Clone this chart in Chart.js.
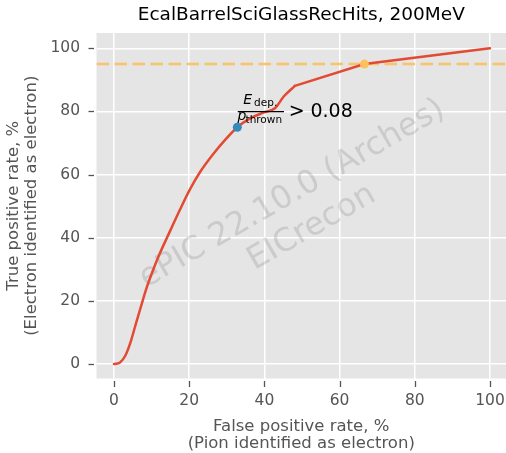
<!DOCTYPE html>
<html><head><meta charset="utf-8">
<script src="https://cdn.jsdelivr.net/npm/chart.js@4.4.1/dist/chart.umd.min.js"></script>
<style>html,body{margin:0;padding:0;background:#fff;overflow:hidden}#wrap{width:506px;height:453px}</style>
</head><body><div id="wrap"><canvas id="c" width="506" height="453"></canvas></div>
<script>
const TITLE = 'EcalBarrelSciGlassRecHits, 200MeV';
const X_LABEL = ['False positive rate, %', '(Pion identified as electron)'];
const Y_LABEL = ['True positive rate, %', '(Electron identified as electron)'];
const X_TICKS = [0, 20, 40, 60, 80, 100];
const Y_TICKS = [0, 20, 40, 60, 80, 100];
// ROC curve: smooth part
const FPR_CURVED = [0, 1.6, 3.0, 4.3, 5.6, 7.0, 8.5, 10, 12, 14.6, 17.6, 20.2, 22.9, 26.4, 29.5, 32.8, 36.2, 39.7, 42.8, 45.2, 48.1];
const TPR_CURVED = [0, 0.5, 2.6, 6.5, 11.8, 17.5, 23.5, 28.5, 34.5, 41.3, 49, 55.3, 60.8, 66.5, 70.9, 75, 77.8, 79.6, 81, 84.8, 88.1];
// ROC curve: straight tail
const FPR_TAIL = [48.1, 66.6, 100];
const TPR_TAIL = [88.1, 95, 100];
const CUT_POINT = [32.8, 75];
const TARGET_POINT = [66.6, 95];
const TPR_TARGET = 95;
const CUT_TEXT = '0.08';
const WATERMARK = ['ePIC 22.10.0 (Arches)', 'EICrecon'];
const WATERMARK_AT = [50, 48.5];

const X_MIN = -4.65, X_MAX = 104.26, Y_MIN = -4.6, Y_MAX = 104.85;
const FONT = '"DejaVu Sans", sans-serif';
const RED = '#E24A33';

const deco = {
  id: 'deco',
  beforeDraw(chart) {
    const {ctx, chartArea: a} = chart;
    ctx.save();
    ctx.fillStyle = '#ffffff';
    ctx.fillRect(0, 0, chart.width, chart.height);
    ctx.fillStyle = '#E5E5E5';
    ctx.fillRect(a.left, a.top, a.right - a.left, a.bottom - a.top);
    ctx.restore();
  },
  beforeDatasetsDraw(chart) {
    const {ctx, chartArea: a, scales: {x, y}} = chart;
    ctx.save();
    ctx.beginPath(); ctx.rect(a.left, a.top, a.right - a.left, a.bottom - a.top); ctx.clip();
    ctx.translate(x.getPixelForValue(WATERMARK_AT[0]), y.getPixelForValue(WATERMARK_AT[1]));
    ctx.rotate(-30 * Math.PI / 180);
    ctx.font = '32px ' + FONT;
    ctx.fillStyle = 'rgba(128,128,128,0.25)';
    ctx.textAlign = 'center';
    ctx.textBaseline = 'middle';
    const lh = 39;
    WATERMARK.forEach((t, i) => ctx.fillText(t, 0, (i - (WATERMARK.length - 1) / 2) * lh));
    ctx.restore();
  },
  afterDraw(chart) {
    const {ctx, chartArea: a, scales: {x, y}} = chart;
    ctx.save();
    ctx.strokeStyle = '#555555';
    ctx.lineWidth = 1.3;
    X_TICKS.forEach(v => {
      const p = Math.round(x.getPixelForValue(v)) + 0.5;
      ctx.beginPath(); ctx.moveTo(p, a.bottom + 2.5); ctx.lineTo(p, a.bottom + 8.5); ctx.stroke();
    });
    Y_TICKS.forEach(v => {
      const p = Math.round(y.getPixelForValue(v)) + 0.5;
      ctx.beginPath(); ctx.moveTo(a.left - 8, p); ctx.lineTo(a.left - 2.5, p); ctx.stroke();
    });
    const ax = x.getPixelForValue(CUT_POINT[0]);
    const ay = y.getPixelForValue(CUT_POINT[1]);
    ctx.fillStyle = '#000';
    ctx.strokeStyle = '#000';
    ctx.textBaseline = 'alphabetic';
    ctx.textAlign = 'left';
    ctx.font = 'italic 14px ' + FONT;
    ctx.fillText('E', ax + 6.0, ay - 23.3);
    ctx.font = '10.5px ' + FONT;
    ctx.fillText('dep.', ax + 16.8, ay - 21.5);
    ctx.font = 'italic 14px ' + FONT;
    ctx.fillText('p', ax + 0.2, ay - 6.9);
    ctx.font = '10.5px ' + FONT;
    ctx.fillText('thrown', ax + 8.2, ay - 4.3);
    ctx.lineWidth = 1.2;
    ctx.beginPath(); ctx.moveTo(ax + 0.4, ay - 15.6); ctx.lineTo(ax + 46.7, ay - 15.6); ctx.stroke();
    ctx.font = '19px ' + FONT;
    ctx.fillText('>', ax + 51.5, ay - 10.6);
    ctx.fillText(CUT_TEXT, ax + 73.1, ay - 10.6);
    ctx.restore();
  }
};

const tickFix = (vals) => (scale) => { scale.ticks = vals.map(v => ({value: v})); };
const pts = (xs, ys) => xs.map((v, i) => ({x: v, y: ys[i]}));

new Chart(document.getElementById('c'), {
  type: 'scatter',
  data: {
    datasets: [
      {
        data: pts(FPR_CURVED, TPR_CURVED),
        showLine: true, borderColor: RED, borderWidth: 2.5, borderCapStyle: 'round',
        pointRadius: 0, cubicInterpolationMode: 'monotone', order: 1
      },
      {
        data: pts(FPR_TAIL, TPR_TAIL),
        showLine: true, borderColor: RED, borderWidth: 2.5, borderCapStyle: 'round',
        pointRadius: 0, tension: 0, order: 1
      },
      {
        data: [{x: X_MIN, y: TPR_TARGET}, {x: X_MAX, y: TPR_TARGET}],
        showLine: true, borderColor: 'rgba(251,193,94,0.95)', borderWidth: 2.5,
        borderDash: [12.5, 5.5], pointRadius: 0, order: 2
      },
      {
        data: [{x: CUT_POINT[0], y: CUT_POINT[1]}],
        pointRadius: 4.5, backgroundColor: '#348ABD', borderWidth: 0, order: 0
      },
      {
        data: [{x: TARGET_POINT[0], y: TARGET_POINT[1]}],
        pointRadius: 4.5, backgroundColor: '#FBC15E', borderWidth: 0, order: 0
      }
    ]
  },
  options: {
    responsive: false, animation: false, devicePixelRatio: 1,
    layout: {padding: 0, autoPadding: false},
    plugins: {
      legend: {display: false}, tooltip: {enabled: false},
      title: {
        display: true, text: TITLE, fullSize: false, color: '#000',
        font: {family: FONT, size: 18.5, weight: 'normal', lineHeight: 1.2},
        padding: {top: 4, bottom: 6.8}
      }
    },
    scales: {
      x: {
        type: 'linear', min: X_MIN, max: X_MAX,
        afterBuildTicks: tickFix(X_TICKS),
        afterFit: (s) => { s.height = 74.5; s.paddingLeft = 0; s.paddingRight = 0; },
        grid: {color: '#ffffff', lineWidth: 1.5, drawTicks: false},
        border: {display: false},
        ticks: {color: '#555555', font: {family: FONT, size: 15.5}, padding: 13, maxRotation: 0, autoSkip: false},
        title: {display: true, text: X_LABEL, color: '#555555', font: {family: FONT, size: 16.5, lineHeight: 1.0}, padding: {top: 0, bottom: 1.5}}
      },
      y: {
        type: 'linear', min: Y_MIN, max: Y_MAX,
        afterBuildTicks: tickFix(Y_TICKS),
        afterFit: (s) => { s.width = 96.5; s.paddingTop = 0; s.paddingBottom = 0; },
        grid: {color: '#ffffff', lineWidth: 1.5, drawTicks: false},
        border: {display: false},
        ticks: {color: '#555555', font: {family: FONT, size: 15.5}, padding: 16.5, autoSkip: false},
        title: {display: true, text: Y_LABEL, color: '#555555', font: {family: FONT, size: 16.5, lineHeight: 1.1}, padding: {top: 4.2, bottom: 0}}
      }
    }
  },
  plugins: [deco]
});
</script>
</body></html>
